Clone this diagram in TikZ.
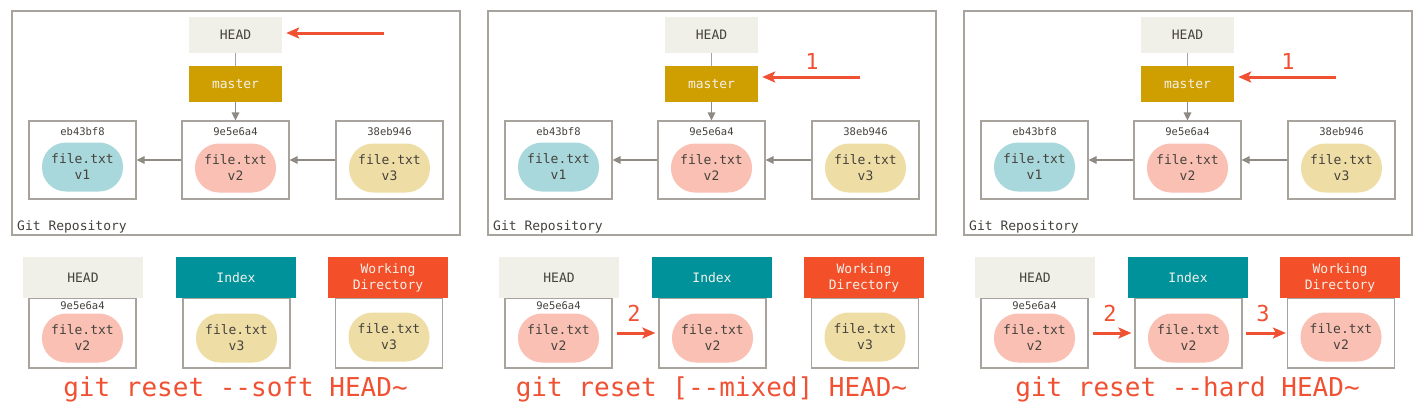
\documentclass[tikz,border=0pt]{standalone}
\usepackage{fontspec}
\setmonofont{DejaVu Sans Mono}
\usetikzlibrary{arrows.meta}
\definecolor{headfill}{HTML}{F0EFE8}
\definecolor{masterfill}{HTML}{CF9E00}
\definecolor{bluefill}{HTML}{A9D8DC}
\definecolor{pinkfill}{HTML}{F9C0B3}
\definecolor{tanfill}{HTML}{EFDDA6}
\definecolor{indexfill}{HTML}{00929A}
\definecolor{wdfill}{HTML}{F34F29}
\definecolor{redarrow}{HTML}{F05133}
\definecolor{grayline}{HTML}{A8A49D}
\definecolor{grayarrow}{HTML}{8F8B84}
\definecolor{textc}{HTML}{45423D}
\definecolor{lighttext}{HTML}{F3F1EA}
\tikzset{
  x=1pt, y=-1pt,
  every node/.style={font=\ttfamily, text=textc, inner sep=0pt},
  mid/.style={font=\ttfamily\fontsize{13}{16}\selectfont},
  small/.style={font=\ttfamily\fontsize{10.5}{12}\selectfont},
  big/.style={font=\ttfamily\fontsize{26}{30}\selectfont, text=redarrow},
  num/.style={font=\ttfamily\fontsize{22}{26}\selectfont, text=redarrow},
  refbox/.style={mid, minimum width=93pt, minimum height=36pt},
  hdrbox/.style={mid, minimum width=120pt, minimum height=41pt, align=center},
  commitbox/.style={draw=grayline, line width=1.2pt, minimum width=107pt, minimum height=78pt},
  treebox/.style={draw=grayline, line width=1.2pt, minimum width=107pt, minimum height=70pt},
  blob/.style={mid, align=center, minimum width=81pt, minimum height=49pt, rounded corners=24pt},
  frame/.style={draw=grayline, line width=1.2pt},
  gline/.style={draw=grayline, line width=1.5pt},
  garrow/.style={draw=grayarrow, line width=1.5pt, -{Triangle[length=8pt,width=7.5pt]}},
  rarrow/.style={draw=redarrow, line width=3pt, -{Stealth[length=13pt,width=11pt,inset=3pt]}},
}
\begin{document}
\begin{tikzpicture}
\useasboundingbox (0,0) rectangle (1424,413);
\fill[white] (0,0) rectangle (1424,413);
\foreach \i/\ox/\ic/\iv/\wc/\wv in {1/0/tanfill/v3/tanfill/v3, 2/476/pinkfill/v2/tanfill/v3, 3/952/pinkfill/v2/pinkfill/v2}{
\begin{scope}[shift={(\ox,0)}]
  % repository
  \node[frame, minimum width=448pt, minimum height=224pt] (repo\i) at (236,123) {};
  \node[mid, anchor=base west] (repolabel\i) at (17,230) {Git Repository};
  \node[refbox, fill=headfill] (head\i) at (235.5,35) {HEAD};
  \node[refbox, fill=masterfill, text=lighttext] (master\i) at (235.5,84) {master};
  \node[commitbox] (c1\i) at (82.5,160) {};
  \node[commitbox] (c2\i) at (235.5,160) {};
  \node[commitbox] (c3\i) at (389.5,160) {};
  \node[small] (h1\i) at (82.5,132) {eb43bf8};
  \node[small] (h2\i) at (235.5,132) {9e5e6a4};
  \node[small] (h3\i) at (389.5,132) {38eb946};
  \node[blob, fill=bluefill] (b1\i) at (82.5,167) {file.txt\\v1};
  \node[blob, fill=pinkfill] (b2\i) at (235.5,168) {file.txt\\v2};
  \node[blob, fill=tanfill] (b3\i) at (389.5,168) {file.txt\\v3};
  \draw[gline] (head\i) -- (master\i);
  \draw[garrow] (master\i) -- (c2\i);
  \draw[garrow] (c2\i.west) -- (c1\i.east);
  \draw[garrow] (c3\i.west) -- (c2\i.east);
  % trees
  \node[treebox] (tb1\i) at (82.5,333) {};
  \node[treebox] (tb2\i) at (236.5,333) {};
  \node[treebox] (tb3\i) at (389,333) {};
  \node[hdrbox, fill=headfill] (th1\i) at (83,277.5) {HEAD};
  \node[hdrbox, fill=indexfill, text=lighttext] (th2\i) at (236,277.5) {Index};
  \node[hdrbox, fill=wdfill, text=lighttext] (th3\i) at (388,277.5) {Working\\Directory};
  \node[small] (th\i) at (82.5,306) {9e5e6a4};
  \node[blob, fill=pinkfill] (tbl1\i) at (82.5,338) {file.txt\\v2};
  \node[blob, fill=\ic] (tbl2\i) at (236.5,338) {file.txt\\\iv};
  \node[blob, fill=\wc] (tbl3\i) at (389,337) {file.txt\\\wv};
\end{scope}
}
% red arrows, top
\coordinate (r11) at (384,33);
\draw[rarrow, shorten >=4pt] (r11) -- (head1.east |- r11);
\coordinate (r12) at (860,77);
\draw[rarrow, shorten >=4pt] (r12) -- (master2.east |- r12);
\node[num] (n12) at (812,61) {1};
\coordinate (r13) at (1336,77);
\draw[rarrow, shorten >=4pt] (r13) -- (master3.east |- r13);
\node[num] (n13) at (1288,61) {1};
% red arrows, bottom
\draw[rarrow, shorten <=4pt, shorten >=3pt] (tb12.east) -- (tb22.west);
\node[num] (n22) at (634,313) {2};
\draw[rarrow, shorten <=4pt, shorten >=3pt] (tb13.east) -- (tb23.west);
\node[num] (n23) at (1110,313) {2};
\draw[rarrow, shorten <=3pt, shorten >=1pt] (tb23.east) -- (tb33.west);
\node[num] (n33) at (1263,313) {3};
% commands
\node[big] (cmd1) at (235.5,389) {git reset {-}{-}soft HEAD\textasciitilde};
\node[big] (cmd2) at (711.5,389) {git reset [{-}{-}mixed] HEAD\textasciitilde};
\node[big] (cmd3) at (1187.5,389) {git reset {-}{-}hard HEAD\textasciitilde};
\end{tikzpicture}
\end{document}
